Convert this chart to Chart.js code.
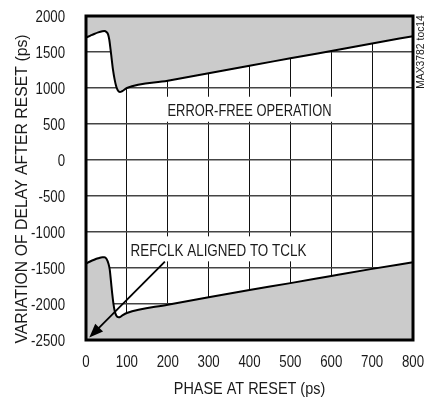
<!DOCTYPE html>
<html>
<head>
<meta charset="utf-8">
<script src="https://cdn.jsdelivr.net/npm/chart.js@4"></script>
<style>
  html, body { margin: 0; padding: 0; background: #fff; }
  #wrap { width: 425px; height: 398px; }
</style>
</head>
<body>
<div id="wrap"><canvas id="myChart" width="425" height="398"></canvas></div>
<script>
// Phase at reset (ps) and resulting delay variation (ps) for the two error boundaries
let phaseUpper = [0, 10, 20, 30, 40, 45, 50, 54, 57, 60, 63, 66, 70, 74, 78, 83, 88, 100, 200, 300, 400, 500, 600, 700, 800];
let delayUpper = [1700, 1725, 1750, 1772, 1788, 1792, 1778, 1745, 1670, 1540, 1395, 1255, 1120, 1020, 965, 945, 955, 1000, 1100, 1205, 1310, 1412, 1515, 1618, 1720];

let phaseLower = [0, 10, 20, 30, 40, 45, 50, 55, 58, 61, 64, 67, 70, 74, 80, 85, 90, 100, 200, 300, 400, 500, 600, 700, 800];
let delayLower = [-1440, -1410, -1385, -1365, -1352, -1352, -1372, -1440, -1520, -1680, -1850, -1990, -2090, -2160, -2185, -2175, -2155, -2125, -2010, -1905, -1805, -1710, -1610, -1512, -1420];

let yTicks = [-2500, -2000, -1500, -1000, -500, 0, 500, 1000, 1500, 2000];
let xTicks = [0, 100, 200, 300, 400, 500, 600, 700, 800];

const FONT = '"Liberation Sans", Arial, sans-serif';
const SHADE = '#cbcbcb';
const INK = '#1a1a1a';

function toPoints(xs, ys) {
    return xs.map((x, i) => ({ x: x, y: ys[i] }));
}

// condensed look: regular sans squeezed horizontally
function narrowText(ctx, text, x, y, size, sx, align, rot) {
    ctx.save();
    ctx.translate(x, y);
    if (rot) ctx.rotate(rot);
    ctx.scale(sx, 1);
    ctx.font = size + 'px ' + FONT;
    ctx.fillStyle = INK;
    ctx.textAlign = align;
    ctx.textBaseline = 'alphabetic';
    ctx.fillText(text, 0, 0);
    ctx.restore();
}

// text boxes, arrow, frame, tick labels and titles drawn over the plot
const overlay = {
    id: 'overlay',
    afterDraw(chart) {
        const ctx = chart.ctx;
        const xs = chart.scales.x;
        const ys = chart.scales.y;
        const area = chart.chartArea;

        function boxedLabel(text, px, py, pad, sx) {
            ctx.save();
            ctx.font = '17px ' + FONT;
            let w = ctx.measureText(text).width * sx;
            let cx = xs.getPixelForValue(px);
            let cy = ys.getPixelForValue(py);
            ctx.fillStyle = '#fff';
            ctx.fillRect(cx - w / 2 - pad, cy - 12.5, w + pad * 2, 25);
            ctx.restore();
            narrowText(ctx, text, cx, cy + 7, 17, sx, 'center');
        }
        boxedLabel('ERROR-FREE OPERATION', 400, 705, 4, 0.76);
        boxedLabel('REFCLK ALIGNED TO TCLK', 324, -1234, 3, 0.79);

        // arrow pointing to the origin
        let x0 = xs.getPixelForValue(193), y0 = ys.getPixelForValue(-1413);
        let x1 = xs.getPixelForValue(8), y1 = ys.getPixelForValue(-2467);
        let ang = Math.atan2(y1 - y0, x1 - x0);
        let headLen = 14, headW = 5.5;
        ctx.save();
        ctx.strokeStyle = '#000';
        ctx.fillStyle = '#000';
        ctx.lineWidth = 1.8;
        ctx.beginPath();
        ctx.moveTo(x0, y0);
        ctx.lineTo(x1 - Math.cos(ang) * headLen * 0.8, y1 - Math.sin(ang) * headLen * 0.8);
        ctx.stroke();
        ctx.beginPath();
        ctx.moveTo(x1, y1);
        ctx.lineTo(x1 - Math.cos(ang) * headLen + Math.sin(ang) * headW, y1 - Math.sin(ang) * headLen - Math.cos(ang) * headW);
        ctx.lineTo(x1 - Math.cos(ang) * headLen - Math.sin(ang) * headW, y1 - Math.sin(ang) * headLen + Math.cos(ang) * headW);
        ctx.closePath();
        ctx.fill();

        // heavy frame
        ctx.lineWidth = 3;
        ctx.strokeRect(area.left, area.top, area.right - area.left, area.bottom - area.top);
        ctx.restore();

        // tick labels placed through the scales
        yTicks.forEach(v => {
            narrowText(ctx, String(v), area.left - 21, ys.getPixelForValue(v) + 6, 17, 0.78, 'right');
        });
        xTicks.forEach(v => {
            narrowText(ctx, String(v), xs.getPixelForValue(v), area.bottom + 27, 17, 0.78, 'center');
        });

        // axis titles
        narrowText(ctx, 'PHASE AT RESET (ps)', (area.left + area.right) / 2, 393.5, 17, 0.85, 'center');
        narrowText(ctx, 'VARIATION OF DELAY AFTER RESET (ps)', 27, 189, 17, 0.93, 'center', -Math.PI / 2);

        // figure tag
        narrowText(ctx, 'MAX3782 toc14', 423.5, 52, 11.5, 0.9, 'center', -Math.PI / 2);
    }
};

let ctx = document.getElementById('myChart').getContext('2d');
let myChart = new Chart(ctx, {
    type: 'line',
    data: {
        datasets: [
            {
                label: 'Upper limit',
                data: toPoints(phaseUpper, delayUpper),
                borderColor: '#000',
                backgroundColor: SHADE,
                borderWidth: 2,
                pointRadius: 0,
                cubicInterpolationMode: 'monotone',
                fill: 'end'
            },
            {
                label: 'Lower limit',
                data: toPoints(phaseLower, delayLower),
                borderColor: '#000',
                backgroundColor: SHADE,
                borderWidth: 2,
                pointRadius: 0,
                cubicInterpolationMode: 'monotone',
                fill: 'start'
            }
        ]
    },
    options: {
        responsive: false,
        animation: false,
        layout: { padding: { top: 16, right: 12, left: 0, bottom: 0 } },
        plugins: {
            legend: { display: false },
            tooltip: { enabled: false }
        },
        scales: {
            x: {
                type: 'linear',
                min: 0,
                max: 800,
                z: 1,
                afterBuildTicks: (scale) => { scale.ticks = xTicks.map(v => ({ value: v })); },
                afterFit: (scale) => { scale.height = 58; },
                grid: { color: '#111', lineWidth: 1, drawTicks: false },
                border: { display: false },
                ticks: { display: false }
            },
            y: {
                min: -2500,
                max: 2000,
                z: 1,
                afterBuildTicks: (scale) => { scale.ticks = yTicks.map(v => ({ value: v })); },
                afterFit: (scale) => { scale.width = 86; },
                grid: { color: '#444', lineWidth: 1.4, drawTicks: false },
                border: { display: false },
                ticks: { display: false }
            }
        }
    },
    plugins: [overlay]
});
</script>
</body>
</html>
